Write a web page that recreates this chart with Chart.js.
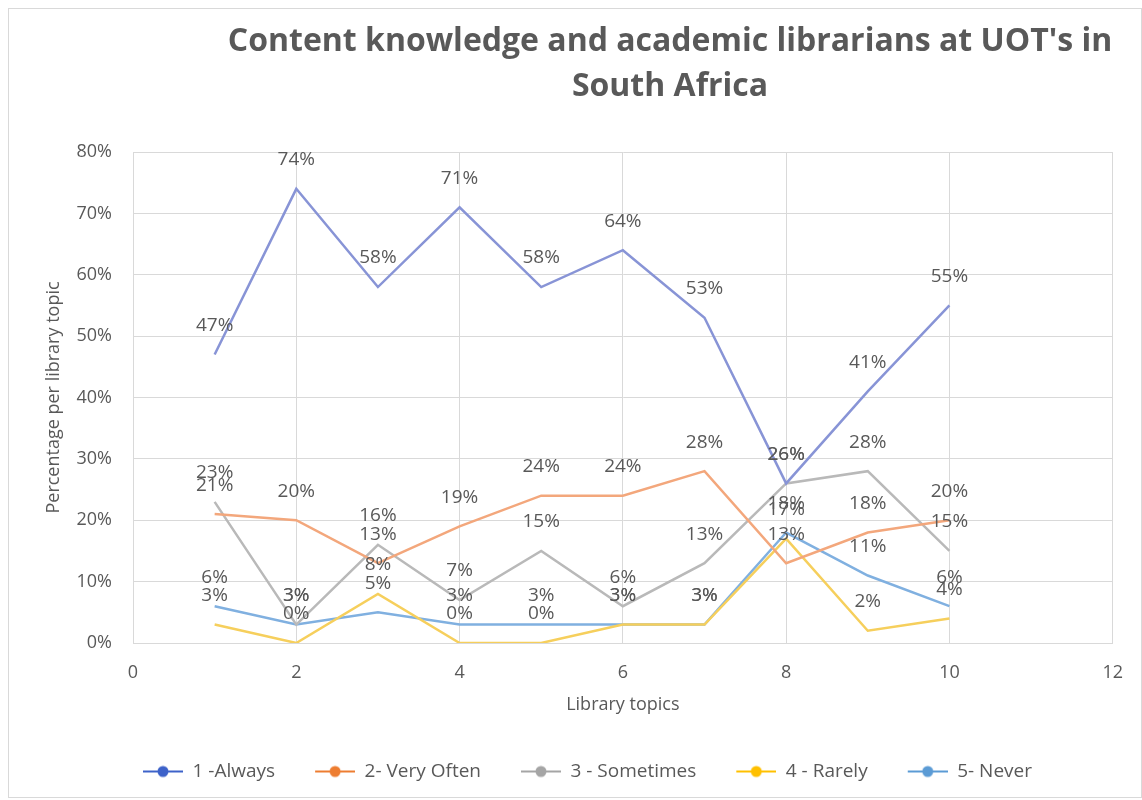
<!DOCTYPE html>
<html>
<head>
<meta charset="utf-8">
<script src="https://cdn.jsdelivr.net/npm/chart.js@4.4.1/dist/chart.umd.min.js"></script>
<style>
  body { margin: 0; background: #fff; }
  .cadre { position: relative; width: 1142px; height: 800px; }
  .cadre::after { content: ''; position: absolute; left: 8px; top: 8px; width: 1132px; height: 788px; border: 1px solid #d9d9d9; pointer-events: none; }
  #graphique { display: block; }
</style>
</head>
<body>
<div class="cadre"><canvas id="graphique" width="1142" height="800"></canvas></div>
<script>
// sujets de bibliotheque (axe x)
const topics = [1, 2, 3, 4, 5, 6, 7, 8, 9, 10];

// pourcentages par reponse
const always    = [47, 74, 58, 71, 58, 64, 53, 26, 41, 55];
const veryOften = [21, 20, 13, 19, 24, 24, 28, 13, 18, 20];
const sometimes = [23, 3, 16, 7, 15, 6, 13, 26, 28, 15];
const rarely    = [3, 0, 8, 0, 0, 3, 3, 17, 2, 4];
const never     = [6, 3, 5, 3, 3, 3, 3, 18, 11, 6];

const seriesNames = ['1 -Always', '2- Very Often', '3 - Sometimes', '4 - Rarely', '5- Never'];
const xTicks = [0, 2, 4, 6, 8, 10, 12];
const yTicks = [0, 10, 20, 30, 40, 50, 60, 70, 80];
const titleLines = ["Content knowledge and academic librarians at UOT's in", 'South Africa'];

const police = '"Open Sans", "DejaVu Sans", sans-serif';
const gris = '#595959';

// couleurs: ligne du graphique / marqueur de legende
const lineColors = ['#8894d6', '#f3a77c', '#b9b9b9', '#f6cf5c', '#80b0e0'];
const dotColors  = ['#3d62c9', '#ed7d31', '#a5a5a5', '#ffc000', '#5b9bd5'];

// petit dessin ligne + rond pour la legende (marge transparente a gauche)
function marqueur(couleur) {
  const c = document.createElement('canvas');
  c.width = 72; c.height = 14;
  const g = c.getContext('2d');
  g.strokeStyle = couleur; g.lineWidth = 2;
  g.beginPath(); g.moveTo(32, 7); g.lineTo(72, 7); g.stroke();
  g.fillStyle = couleur;
  g.beginPath(); g.arc(52, 7, 5.5, 0, Math.PI * 2); g.fill();
  return c;
}
const marqueurs = dotColors.map(marqueur);

const valeurs = [always, veryOften, sometimes, rarely, never];
const datasets = valeurs.map((serie, i) => ({
  label: seriesNames[i],
  data: topics.map((t, j) => ({ x: t, y: serie[j] })),
  borderColor: lineColors[i],
  backgroundColor: lineColors[i],
  borderWidth: 2.5,
  pointRadius: 0,
  tension: 0
}));

// etiquettes de valeur au dessus des points
const etiquettes = {
  id: 'etiquettes',
  afterDatasetsDraw(chart) {
    const ctx = chart.ctx;
    ctx.save();
    ctx.font = '19px ' + police;
    ctx.fillStyle = gris;
    ctx.textAlign = 'center';
    ctx.textBaseline = 'middle';
    chart.data.datasets.forEach((ds, i) => {
      chart.getDatasetMeta(i).data.forEach((pt, j) => {
        ctx.fillText(ds.data[j].y + '%', pt.x, pt.y - 29);
      });
    });
    ctx.restore();
  }
};

// titre decale comme dans l'original
const titre = {
  id: 'titre',
  afterDraw(chart) {
    const ctx = chart.ctx;
    ctx.save();
    ctx.font = 'bold 32px ' + police;
    ctx.fillStyle = gris;
    ctx.textAlign = 'center';
    ctx.textBaseline = 'middle';
    titleLines.forEach((l, i) => ctx.fillText(l, 670, 42 + i * 45));
    ctx.restore();
  }
};

const ctx = document.getElementById('graphique').getContext('2d');
new Chart(ctx, {
  type: 'line',
  data: { datasets: datasets },
  options: {
    responsive: false,
    animation: false,
    layout: { padding: { left: 30, right: 29, top: 152, bottom: 9 } },
    scales: {
      x: {
        type: 'linear', min: 0, max: 12,
        afterBuildTicks: s => { s.ticks = xTicks.map(v => ({ value: v })); },
        afterFit: s => { s.height = 111; },
        grid: { color: '#d9d9d9', drawTicks: false },
        border: { color: '#d9d9d9' },
        ticks: { padding: 19, color: gris, font: { size: 18, family: police } },
        title: { display: true, text: 'Library topics', color: gris, font: { size: 18, family: police }, padding: { top: 4, bottom: 38 } }
      },
      y: {
        min: 0, max: 80,
        afterBuildTicks: s => { s.ticks = yTicks.map(v => ({ value: v })); },
        afterFit: s => { s.width = 103; },
        grid: { color: '#d9d9d9', drawTicks: false },
        border: { color: '#d9d9d9' },
        ticks: { padding: 21, color: gris, font: { size: 18, family: police }, callback: v => v + '%' },
        title: { display: true, text: 'Percentage per library topic', color: gris, font: { size: 18, family: police }, padding: { top: 13, bottom: 0 } }
      }
    },
    plugins: {
      legend: {
        position: 'bottom',
        labels: {
          usePointStyle: true,
          pointStyleWidth: 72,
          boxHeight: 14,
          padding: 8,
          color: gris,
          font: { size: 19, family: police },
          generateLabels: chart => chart.data.datasets.map((ds, i) => ({
            text: ds.label,
            pointStyle: marqueurs[i],
            fillStyle: dotColors[i],
            strokeStyle: dotColors[i],
            lineWidth: 0,
            fontColor: gris,
            hidden: false,
            datasetIndex: i
          }))
        }
      },
      title: { display: false },
      tooltip: { enabled: false }
    }
  },
  plugins: [etiquettes, titre]
});
</script>
</body>
</html>
